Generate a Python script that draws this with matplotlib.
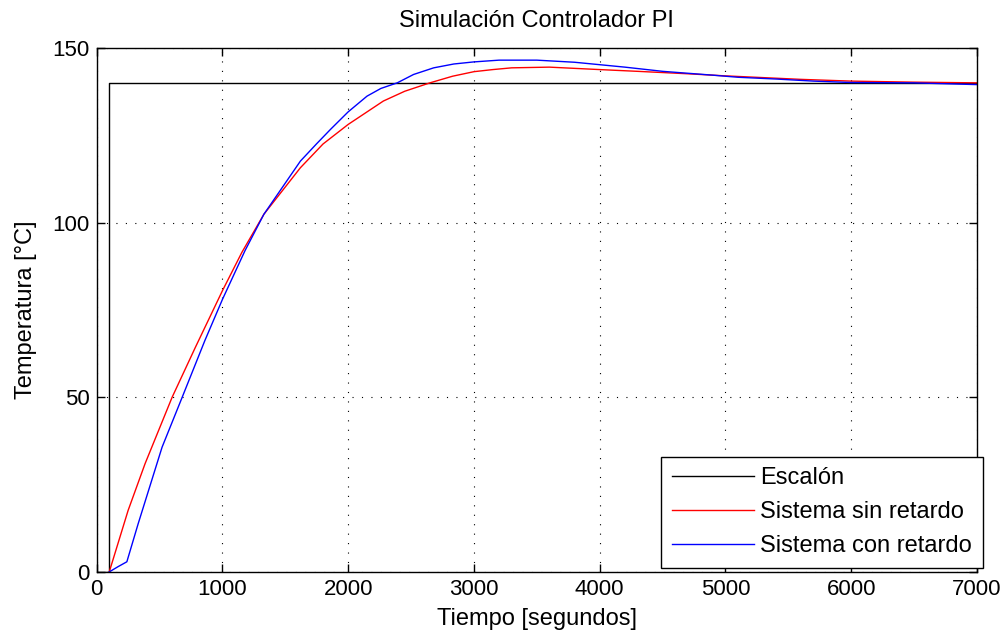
import matplotlib
matplotlib.use('Agg')
import matplotlib.pyplot as plt

# Datos
t_escalon = [0, 100, 100, 7000]
y_escalon = [0, 0, 140, 140]

t_sin = [100, 250, 385, 600, 785, 1000, 1155, 1330, 1620, 1800, 2000, 2280, 2450, 2650,
         2830, 3000, 3150, 3300, 3600, 4000, 4300, 4700, 5000, 5300, 5600, 6000, 6500, 7000]
y_sin = [0, 17.6, 31, 50, 64.3, 80.5, 91.5, 102.4, 115.7, 122.5, 128.1, 134.8, 137.6, 140,
         141.9, 143.2, 143.8, 144.3, 144.5, 143.8, 143.3, 142.6, 142.0, 141.5, 141.0,
         140.5, 140.2, 140.0]

t_con = [100, 170, 240, 330, 520, 680, 860, 1000, 1180, 1330, 1620, 1750, 1860, 2000, 2150,
         2260, 2390, 2520, 2680, 2840, 3000, 3200, 3500, 3800, 4000, 4200, 4500, 4900, 5100,
         5400, 5700, 6000, 6500, 7000]
y_con = [0, 1.5, 2.9, 13.8, 35.7, 50, 66.2, 78, 92, 102.4, 117.6, 122.6, 126.7, 131.7, 136.2,
         138.4, 140, 142.4, 144.3, 145.4, 146, 146.5, 146.5, 145.9, 145.2, 144.5, 143.3,
         142.2, 141.6, 141.1, 140.5, 140.1, 140.0, 139.5]

xticks = [0, 1000, 2000, 3000, 4000, 5000, 6000, 7000]
yticks = [0, 50, 100, 150]

plt.rcParams['font.family'] = ['Liberation Sans', 'DejaVu Sans']

fig = plt.figure(figsize=(10.06, 6.39), dpi=100)
ax = fig.add_axes([0.0961, 0.105, 0.875, 0.82])

ax.plot(t_escalon, y_escalon, color='black', lw=1.0, label='Escalón')
ax.plot(t_sin, y_sin, color='red', lw=1.0, label='Sistema sin retardo')
ax.plot(t_con, y_con, color='blue', lw=1.0, label='Sistema con retardo')

ax.set_xlim(0, 7000)
ax.set_ylim(0, 150)
ax.set_xticks(xticks)
ax.set_yticks(yticks)
ax.grid(True, color='black', linestyle=(0, (1, 7.5)), linewidth=0.8)
ax.tick_params(direction='in', length=6, width=1, top=True, right=True, labelsize=16,
               colors='black', pad=5)
for s in ax.spines.values():
    s.set_linewidth(1.0)

ax.set_title('Simulación Controlador PI', fontsize=17, pad=15)
ax.set_xlabel('Tiempo [segundos]', fontsize=17, labelpad=6)
ax.set_ylabel('Temperatura [°C]', fontsize=17, labelpad=11)

leg = ax.legend(loc='lower right', bbox_to_anchor=(1.0065, 0.008), fontsize=17,
                fancybox=False, framealpha=1, edgecolor='black', borderaxespad=0,
                handlelength=3.5, labelspacing=0.5, handletextpad=0.25, borderpad=0.45)
leg.get_frame().set_linewidth(1.0)

plt.savefig('out.png', dpi=100)
